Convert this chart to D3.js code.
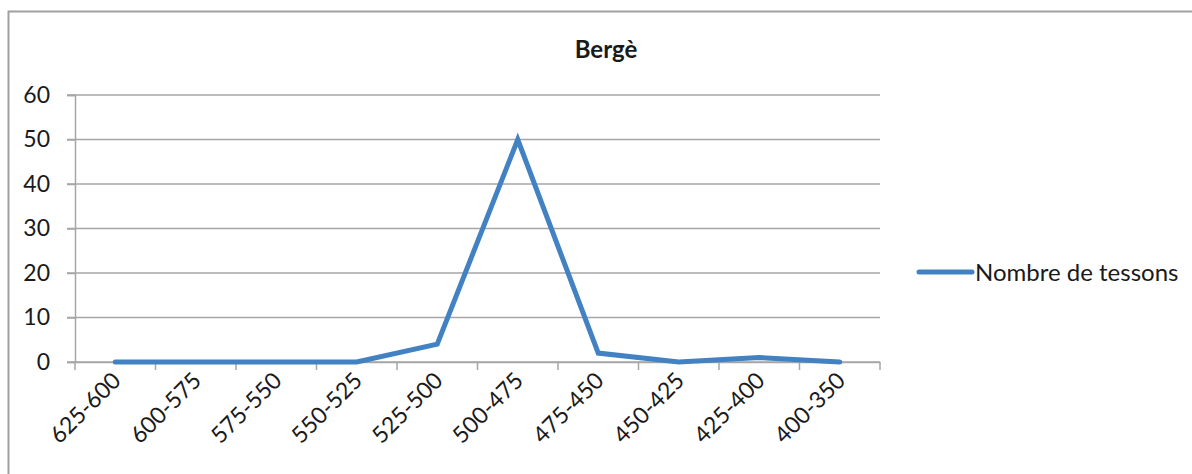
<!DOCTYPE html>
<html>
<head>
<meta charset="utf-8">
<script src="https://cdn.jsdelivr.net/npm/d3@7"></script>
<style>
  body { margin: 0; background: #fff; }
  svg { display: block; font-family: Lato, "Open Sans", sans-serif; }
</style>
</head>
<body>
<svg id="chart" width="1192" height="474"></svg>
<script>
let title = 'Bergè';
let seriesName = 'Nombre de tessons';
let categories = ['625-600', '600-575', '575-550', '550-525', '525-500', '500-475', '475-450', '450-425', '425-400', '400-350'];
let values = [0, 0, 0, 0, 4, 50, 2, 0, 1, 0];
let yTicks = [0, 10, 20, 30, 40, 50, 60];

let svg = d3.select('#chart');
let gridColor = '#a6a6a6';
let lineColor = '#4282c2';
let textColor = '#1a1a1a';

let plotLeft = 75, plotRight = 880, plotTop = 95, plotBottom = 362;

// outer chart border (runs off the picture on right and bottom)
svg.append('rect')
    .attr('x', 8.5).attr('y', 11.5)
    .attr('width', 1200).attr('height', 500)
    .attr('fill', 'none')
    .attr('stroke', '#a0a0a0')
    .attr('stroke-width', 2);

svg.append('text')
    .text(title)
    .attr('x', 606).attr('y', 58)
    .attr('text-anchor', 'middle')
    .style('font-weight', 'bold')
    .style('font-size', '24px')
    .attr('fill', textColor);

let xScale = d3.scaleBand().domain(categories).range([plotLeft, plotRight]);
let yScale = d3.scaleLinear().domain([0, 60]).range([plotBottom, plotTop]);

// gridlines
svg.append('g')
    .selectAll('line')
    .data(yTicks)
    .enter()
    .append('line')
    .attr('x1', plotLeft - 8).attr('x2', plotRight)
    .attr('y1', (d) => yScale(d)).attr('y2', (d) => yScale(d))
    .attr('stroke', gridColor)
    .attr('stroke-width', 1.5);

// y axis
let yAxis = d3.axisLeft(yScale).tickValues(yTicks).tickSize(8).tickPadding(17);
let yG = svg.append('g').attr('transform', `translate(${plotLeft},0)`).call(yAxis);
yG.select('.domain').attr('stroke', gridColor).attr('stroke-width', 1.5);
yG.selectAll('.tick line').attr('stroke', gridColor).attr('stroke-width', 1.5);
yG.selectAll('.tick text').attr('fill', textColor).style('font-size', '23px').style('font-family', 'Lato, sans-serif');

// x axis
let xAxis = d3.axisBottom(xScale).tickSize(0).tickPadding(0);
let xG = svg.append('g').attr('transform', `translate(0,${plotBottom})`).call(xAxis);
xG.select('.domain').attr('stroke', gridColor).attr('stroke-width', 1.5);
xG.selectAll('.tick line').remove();
xG.selectAll('.tick text')
    .attr('fill', textColor)
    .style('font-size', '23px')
    .style('font-family', 'Lato, sans-serif')
    .attr('text-anchor', 'end')
    .attr('dy', 0)
    .attr('transform', 'translate(7,20) rotate(-45)');

// x tick marks at band edges
let edges = categories.map((c) => xScale(c)).concat([plotRight]);
xG.selectAll('.edge')
    .data(edges)
    .enter()
    .append('line')
    .attr('class', 'edge')
    .attr('x1', (d) => d).attr('x2', (d) => d)
    .attr('y1', 0).attr('y2', 8)
    .attr('stroke', gridColor)
    .attr('stroke-width', 1.5);

// series line
let line = d3.line()
    .x((d, i) => xScale(categories[i]) + xScale.bandwidth() / 2)
    .y((d) => yScale(d));

svg.append('path')
    .datum(values)
    .attr('d', line)
    .attr('fill', 'none')
    .attr('stroke', lineColor)
    .attr('stroke-width', 5)
    .attr('stroke-linejoin', 'miter')
    .attr('stroke-linecap', 'round');

// legend
svg.append('line')
    .attr('x1', 919).attr('x2', 972)
    .attr('y1', 272).attr('y2', 272)
    .attr('stroke', lineColor)
    .attr('stroke-width', 5)
    .attr('stroke-linecap', 'round');

svg.append('text')
    .text(seriesName)
    .attr('x', 975).attr('y', 281)
    .style('font-size', '24px')
    .attr('fill', textColor);
</script>
</body>
</html>
